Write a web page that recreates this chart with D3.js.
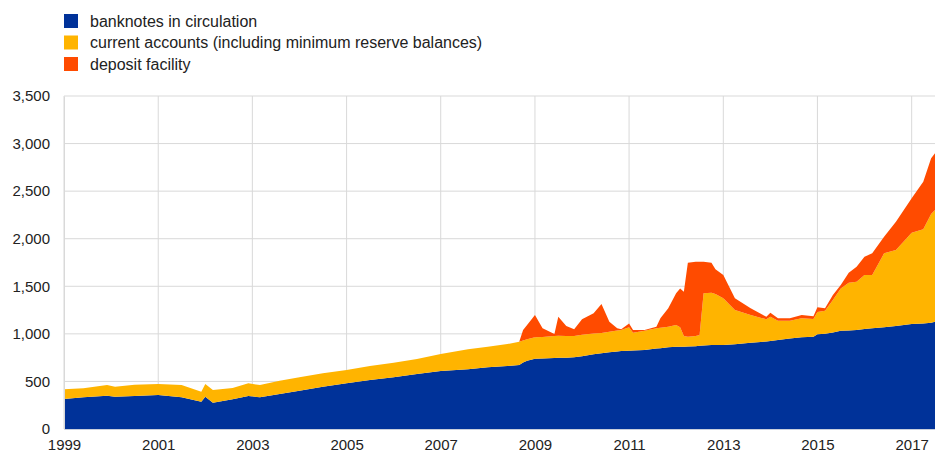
<!DOCTYPE html>
<html>
<head>
<meta charset="utf-8">
<script src="https://cdn.jsdelivr.net/npm/d3@7/dist/d3.min.js"></script>
<style>
  body { margin: 0; background: #fff; }
  svg { display: block; font-family: "Liberation Sans", Arial, sans-serif; }
</style>
</head>
<body>
<svg id="chart" width="935" height="454"></svg>
<script>
// Dates (month) and stack tops (EUR billions)
const dates = ["1999-01","1999-06","1999-12","2000-02","2000-07","2001-01","2001-07","2001-12","2002-01","2002-03","2002-08","2002-12","2003-03","2003-08","2004-01","2004-07","2005-01","2005-07","2006-01","2006-07","2007-01","2007-08","2008-01","2008-06","2008-09","2008-10","2008-11","2009-01","2009-03","2009-06","2009-07","2009-09","2009-11","2010-01","2010-04","2010-06","2010-08","2010-10","2010-11","2011-01","2011-02","2011-05","2011-08","2011-09","2011-11","2012-01","2012-02","2012-03","2012-04","2012-06","2012-07","2012-08","2012-10","2012-11","2013-01","2013-04","2013-08","2013-12","2014-01","2014-03","2014-06","2014-09","2014-12","2015-01","2015-03","2015-05","2015-07","2015-09","2015-11","2016-01","2016-03","2016-06","2016-09","2017-01","2017-04","2017-06","2017-07"];
// banknotes in circulation
const banknotes = [315,333,350,340,348,357,333,287,340,277,312,347,333,368,403,445,480,515,543,578,610,627,648,662,673,700,718,739,742,746,748,750,753,765,785,795,806,815,820,823,825,830,845,850,858,865,865,865,868,870,875,878,883,883,883,890,907,920,925,935,950,964,970,995,1000,1015,1033,1036,1040,1050,1058,1070,1083,1104,1110,1117,1128];
// current accounts (including minimum reserve balances)
const currentAccounts = [102,95,112,105,117,116,129,105,133,133,118,133,129,140,140,140,140,147,154,157,178,210,217,231,245,230,225,225,226,231,232,228,224,225,220,215,217,220,220,247,187,203,213,215,218,228,204,112,102,107,113,548,550,536,491,361,291,233,255,203,188,199,185,235,243,341,445,502,508,569,561,776,798,959,989,1143,1174];
// deposit facility
const depositFacility = [0,0,0,0,0,0,0,0,0,0,0,0,0,0,0,0,0,0,0,0,0,0,0,0,0,110,150,234,90,21,200,105,71,163,211,304,105,23,8,38,28,7,18,98,192,333,409,466,778,782,771,333,315,259,245,123,70,27,43,25,25,35,30,50,25,52,35,105,158,192,227,175,298,361,500,585,595];
const yTicks = [0,500,1000,1500,2000,2500,3000,3500];
const xTickYears = [1999,2001,2003,2005,2007,2009,2011,2013,2015,2017];
const seriesNames = ["banknotes in circulation","current accounts (including minimum reserve balances)","deposit facility"];
const colors = ["#003299","#FFB400","#FF4B00"];

const parse = d3.timeParse("%Y-%m");
const table = dates.map((d,i) => ({date: parse(d), b: banknotes[i], c: currentAccounts[i], d: depositFacility[i]}));
const keys = ["b","c","d"];

const svg = d3.select("#chart");
const mLeft = 64, mRight = 935, mTop = 96, mBottom = 429;

const x = d3.scaleTime().domain([new Date(1999,0,1), new Date(2017,6,1)]).range([mLeft, mRight]);
const y = d3.scaleLinear().domain([0,3500]).range([mBottom, mTop]);

// grid
const g = svg.append("g");
g.selectAll(".hg").data(yTicks.filter(v => v>0)).join("line")
  .attr("x1", mLeft).attr("x2", mRight)
  .attr("y1", d => y(d)).attr("y2", d => y(d))
  .attr("stroke", "#d9d9d9").attr("stroke-width", 1);
g.selectAll(".vg").data(xTickYears).join("line")
  .attr("x1", d => x(new Date(d,0,1))).attr("x2", d => x(new Date(d,0,1)))
  .attr("y1", mTop).attr("y2", mBottom)
  .attr("stroke", "#d9d9d9").attr("stroke-width", 1);

// stacked areas
const stack = d3.stack().keys(keys)(table);
const area = d3.area().x(d => x(d.data.date)).y0(d => y(d[0])).y1(d => y(d[1]));
svg.append("g").selectAll("path").data(stack).join("path")
  .attr("d", area).attr("fill", (d,i) => colors[i]);

// axes
const yAxis = d3.axisLeft(y).tickValues(yTicks).tickFormat(d3.format(",")).tickSize(0).tickPadding(14);
const ya = svg.append("g").attr("transform", `translate(${mLeft},0)`).call(yAxis);
ya.select(".domain").attr("stroke", "#d9d9d9");
ya.selectAll("text").attr("font-size", 15).attr("fill", "#222").attr("font-family", "Liberation Sans, Arial, sans-serif");

const xAxis = d3.axisBottom(x).tickValues(xTickYears.map(yv => new Date(yv,0,1))).tickFormat(d3.timeFormat("%Y")).tickSize(0).tickPadding(10);
const xa = svg.append("g").attr("transform", `translate(0,${mBottom})`).call(xAxis);
xa.select(".domain").attr("stroke", "#c8cfdc");
xa.selectAll("text").attr("font-size", 15).attr("fill", "#222").attr("font-family", "Liberation Sans, Arial, sans-serif");

// legend
const lg = svg.append("g");
seriesNames.forEach((name, i) => {
  const yy = 14 + i * 21.5;
  lg.append("rect").attr("x", 64).attr("y", yy).attr("width", 14).attr("height", 14).attr("fill", colors[i]);
  lg.append("text").attr("x", 90).attr("y", yy + 7).attr("dy", "0.35em")
    .attr("font-size", 16).attr("fill", "#222").text(name);
});
</script>
</body>
</html>
